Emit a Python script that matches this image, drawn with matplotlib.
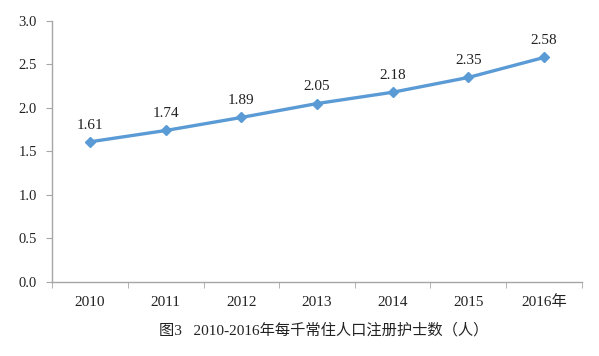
import matplotlib
matplotlib.use("Agg")
import matplotlib.pyplot as plt
from matplotlib.ticker import MultipleLocator, FixedLocator

plt.rcParams['font.family'] = ['Liberation Serif', 'Noto Sans CJK SC']

categories = ['2010', '2011', '2012', '2013', '2014', '2015', '2016年']
values = [1.61, 1.74, 1.89, 2.05, 2.18, 2.35, 2.58]
caption = '图3   2010-2016年每千常住人口注册护士数（人）'

fig = plt.figure(figsize=(5.99, 3.56), dpi=100)
ax = fig.add_axes([52.3/599, 1 - 281.7/356, (581.7-52.3)/599, (281.7-21)/356])

color = '#5B9BD5'
x = list(range(len(categories)))
ax.plot(x, values, color=color, lw=2.4, marker='D', ms=5.5, markeredgecolor=color,
        markerfacecolor=color, solid_capstyle='round', zorder=3)
for xi, v in zip(x, values):
    ax.annotate(f'{v:.2f}', (xi, v), xytext=(0, 9.5), textcoords='offset points',
                ha='center', va='baseline', fontsize=11, color='#222222')

ax.set_xlim(-0.5, len(categories) - 0.5)
ax.set_ylim(0, 3.0)
ax.yaxis.set_major_locator(MultipleLocator(0.5))
ax.set_yticklabels([f'{t:.1f}' for t in ax.get_yticks()])
ax.set_xticks(x)
ax.set_xticklabels(categories)
ax.xaxis.set_minor_locator(FixedLocator([i - 0.5 for i in range(len(categories) + 1)]))
ax.tick_params(axis='x', which='major', length=0, pad=10, labelsize=11, colors='#222222')
ax.tick_params(axis='x', which='minor', length=4, color='#A6A6A6', direction='out')
ax.tick_params(axis='y', length=4, color='#A6A6A6', labelsize=10.5, labelcolor='#222222', pad=7)

for s in ['top', 'right']:
    ax.spines[s].set_visible(False)
for s in ['left', 'bottom']:
    ax.spines[s].set_color('#A6A6A6')
    ax.spines[s].set_linewidth(1.0)

fig.text(324/599, 1 - 330/356, caption, ha='center', va='center', fontsize=11, color='#222222')

fig.savefig('out.png', dpi=100)
